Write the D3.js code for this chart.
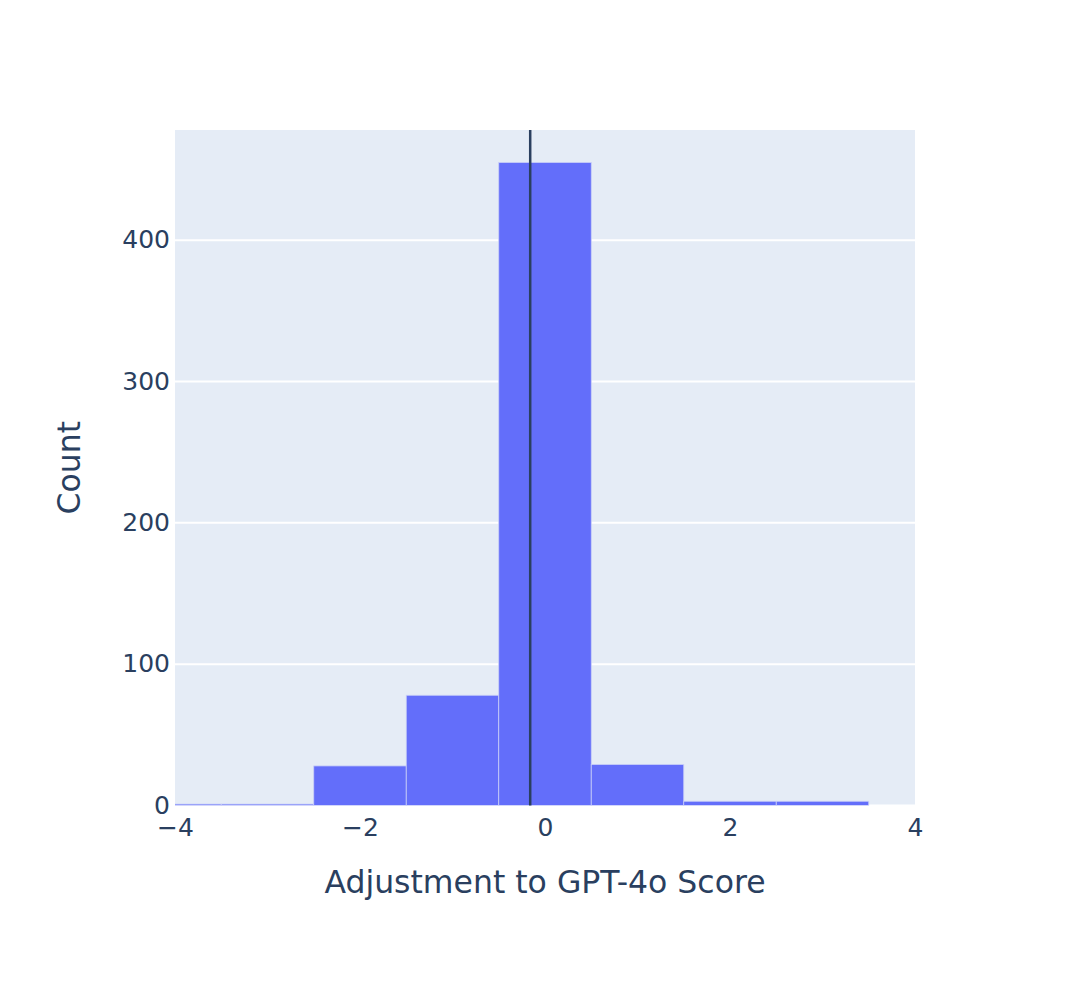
<!DOCTYPE html>
<html>
<head>
<meta charset="utf-8">
<script src="https://cdn.jsdelivr.net/npm/d3@7"></script>
<style>
  body { margin: 0; background: #fff; }
  svg { display: block; }
</style>
</head>
<body>
<svg id="chart" width="1090" height="982"></svg>
<script>
// Data
const binStarts = [-4.5, -3.5, -2.5, -1.5, -0.5, 0.5, 1.5, 2.5];
const binWidth = 1;
const counts = [1, 1, 28, 78, 455, 29, 3, 3];
const meanLine = -0.16;
const xTicks = [-4, -2, 0, 2, 4];
const yTicks = [0, 100, 200, 300, 400];
const xTitle = "Adjustment to GPT-4o Score";
const yTitle = "Count";

const W = 1090, H = 982;
const m = { left: 175, right: 1090 - 915, top: 130, bottom: 982 - 805.5 };
const pw = W - m.left - m.right, ph = H - m.top - m.bottom;
const font = "'DejaVu Sans', Verdana, sans-serif";
const textColor = "#2a3f5f";

const svg = d3.select("#chart");
const x = d3.scaleLinear().domain([-4, 4]).range([m.left, m.left + pw]);
const y = d3.scaleLinear().domain([0, 478]).range([m.top + ph, m.top]);

svg.append("rect").attr("x", m.left).attr("y", m.top).attr("width", pw).attr("height", ph).attr("fill", "#e5ecf6");

svg.append("defs").append("clipPath").attr("id", "clip")
  .append("rect").attr("x", m.left).attr("y", m.top).attr("width", pw).attr("height", ph);

// gridlines
svg.append("g").selectAll("line").data(yTicks.filter(d => d > 0)).join("line")
  .attr("x1", m.left).attr("x2", m.left + pw)
  .attr("y1", d => y(d)).attr("y2", d => y(d))
  .attr("stroke", "#fff").attr("stroke-width", 2);
svg.append("line").attr("x1", m.left).attr("x2", m.left + pw)
  .attr("y1", y(0)).attr("y2", y(0)).attr("stroke", "#fff").attr("stroke-width", 2);

// bars
const bars = svg.append("g").attr("clip-path", "url(#clip)");
bars.selectAll("rect").data(counts).join("rect")
  .attr("x", (d, i) => x(binStarts[i]))
  .attr("width", (d, i) => x(binStarts[i] + binWidth) - x(binStarts[i]))
  .attr("y", d => y(d))
  .attr("height", d => y(0) - y(d))
  .attr("fill", "#636efa")
  .attr("stroke", "#c9cff8").attr("stroke-width", 0.8);

// mean line
svg.append("line").attr("x1", x(meanLine)).attr("x2", x(meanLine))
  .attr("y1", m.top).attr("y2", m.top + ph)
  .attr("stroke", "#2a3f5f").attr("stroke-width", 2.5);

// axes
const xAxis = d3.axisBottom(x).tickValues(xTicks).tickSize(0).tickPadding(0)
  .tickFormat(d => d < 0 ? "\u2212" + Math.abs(d) : String(d));
const gx = svg.append("g").attr("transform", `translate(0,${m.top + ph})`).call(xAxis);
gx.select(".domain").remove();
gx.selectAll("text").attr("y", 30).attr("dy", 0).attr("font-size", 25).attr("font-family", font).attr("fill", textColor);

const yAxis = d3.axisLeft(y).tickValues(yTicks).tickSize(0).tickPadding(0);
const gy = svg.append("g").attr("transform", `translate(${m.left},0)`).call(yAxis);
gy.select(".domain").remove();
gy.selectAll("text").attr("x", -5).attr("dy", "0.3em").attr("font-size", 25).attr("font-family", font).attr("fill", textColor);

// titles
svg.append("text").attr("x", m.left + pw / 2).attr("y", 893).attr("text-anchor", "middle")
  .attr("font-size", 31.5).attr("font-family", font).attr("fill", textColor).text(xTitle);
svg.append("text").attr("transform", `translate(80,${m.top + ph / 2}) rotate(-90)`).attr("text-anchor", "middle")
  .attr("font-size", 31.5).attr("font-family", font).attr("fill", textColor).text(yTitle);
</script>
</body>
</html>
